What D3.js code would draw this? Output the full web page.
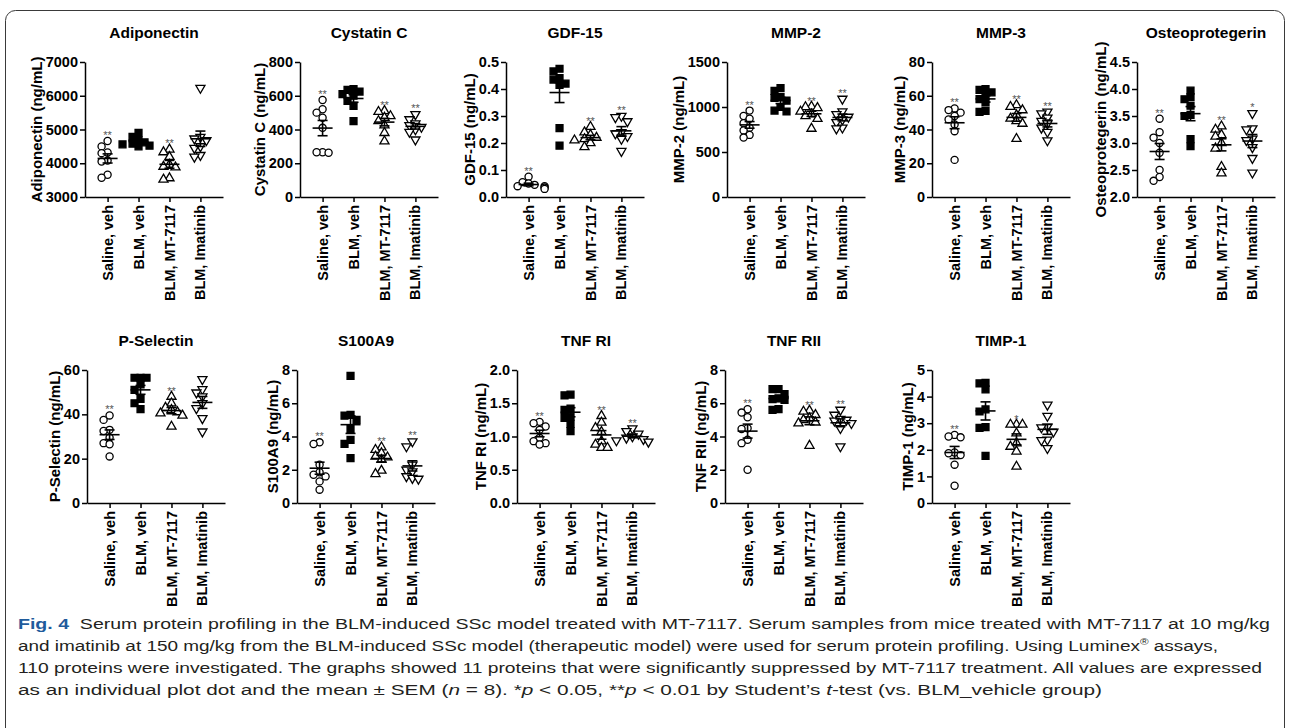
<!DOCTYPE html>
<html>
<head>
<meta charset="utf-8">
<script src="https://cdn.jsdelivr.net/npm/d3@7"></script>
<style>
  body { margin: 0; background: #fff; }
  svg text { font-family: "Liberation Sans", Arial, sans-serif; }
</style>
</head>
<body>
<svg id="fig" width="1290" height="728"></svg>
<script>
// groups shown on every x axis
var groups = ["Saline, veh", "BLM, veh", "BLM, MT-7117", "BLM, Imatinib"];

// values, one array per group (n = 8)
var adiponectin = [
  [4660, 4500, 4320, 4300, 4080, 4050, 3570, 3660],
  [4900, 4780, 4680, 4620, 4580, 4560, 4520, 4500],
  [4410, 4330, 4190, 3960, 3900, 3880, 3520, 3560],
  [6230, 4780, 4730, 4680, 4500, 4450, 4190, 4240]
];
var cystatinC = [
  [575, 520, 500, 470, 410, 265, 262, 265],
  [640, 635, 625, 610, 600, 570, 540, 450],
  [510, 505, 480, 470, 450, 425, 380, 330],
  [490, 460, 435, 425, 415, 400, 385, 340]
];
var gdf15 = [
  [0.075, 0.055, 0.05, 0.045, 0.04, 0.04, 0.035, 0.03],
  [0.475, 0.465, 0.44, 0.435, 0.42, 0.415, 0.255, 0.19],
  [0.26, 0.24, 0.23, 0.22, 0.215, 0.21, 0.2, 0.185],
  [0.3, 0.295, 0.28, 0.24, 0.235, 0.225, 0.215, 0.17]
];
var mmp2 = [
  [960, 900, 870, 820, 770, 740, 690, 660],
  [1210, 1180, 1110, 1100, 1070, 1000, 960, 950],
  [1005, 1000, 990, 950, 920, 900, 870, 760],
  [1090, 950, 920, 890, 860, 830, 770, 760]
];
var mmp3 = [
  [52.5, 51.5, 50, 48, 46, 43, 39, 22],
  [64, 63.5, 62, 60, 58, 56, 51, 50.5],
  [54.5, 53.5, 51.5, 48.5, 46.5, 45, 43.5, 34.5],
  [50.5, 49.5, 47, 45, 43.5, 41, 38.5, 33.5]
];
var osteoprotegerin = [
  [3.45, 3.2, 3.1, 3.0, 2.82, 2.5, 2.3, 2.37],
  [3.97, 3.85, 3.81, 3.69, 3.52, 3.5, 3.07, 2.94],
  [3.31, 3.25, 3.15, 3.12, 3.0, 2.9, 2.56, 2.44],
  [3.55, 3.27, 3.25, 3.08, 3.05, 2.92, 2.72, 2.45]
];
var pSelectin = [
  [39.5, 37.5, 33, 32.5, 29.5, 27, 26.5, 21],
  [56.5, 56.5, 56.5, 53.5, 51, 47, 45, 42.3],
  [48, 45, 43, 42, 41, 40.5, 39.5, 34.5],
  [55.8, 51.3, 49.8, 48, 45, 42.7, 38.2, 32.2]
];
var s100a9 = [
  [3.65, 3.55, 2.3, 1.85, 1.7, 1.6, 1.3, 0.8],
  [7.65, 5.3, 5.25, 5.0, 4.45, 3.8, 3.55, 2.7],
  [3.35, 3.2, 3.0, 2.8, 2.75, 2.6, 1.95, 1.75],
  [3.7, 3.4, 2.3, 2.0, 1.9, 1.6, 1.5, 1.45]
];
var tnfRI = [
  [1.22, 1.2, 1.15, 1.1, 0.98, 0.93, 0.9, 0.88],
  [1.63, 1.62, 1.42, 1.4, 1.3, 1.28, 1.19, 1.08],
  [1.31, 1.21, 1.13, 1.07, 0.93, 0.88, 0.83, 0.83],
  [1.12, 1.08, 1.04, 1.0, 0.98, 0.96, 0.94, 0.92]
];
var tnfRII = [
  [5.64, 5.44, 5.16, 4.5, 4.45, 3.8, 3.6, 2.0],
  [6.85, 6.85, 6.55, 6.3, 6.25, 6.2, 5.65, 5.6],
  [5.56, 5.5, 5.3, 5.1, 5.0, 4.85, 4.8, 3.45],
  [5.6, 5.3, 5.05, 5.0, 4.95, 4.8, 4.5, 3.4]
];
var timp1 = [
  [2.56, 2.5, 2.47, 1.9, 1.87, 1.8, 1.44, 0.65],
  [4.52, 4.5, 4.27, 3.52, 3.44, 2.85, 2.82, 1.77],
  [2.95, 2.95, 2.95, 2.62, 2.25, 2.12, 1.94, 1.37],
  [3.69, 3.27, 2.87, 2.84, 2.68, 2.38, 2.36, 2.06]
];

// y tick labels per panel
var adiponectinTicks = [3000, 4000, 5000, 6000, 7000];
var cystatinTicks = [0, 200, 400, 600, 800];
var gdf15Ticks = [0.0, 0.1, 0.2, 0.3, 0.4, 0.5];
var mmp2Ticks = [0, 500, 1000, 1500];
var mmp3Ticks = [0, 20, 40, 60, 80];
var osteoTicks = [2.0, 2.5, 3.0, 3.5, 4.0, 4.5];
var pSelectinTicks = [0, 20, 40, 60];
var s100a9Ticks = [0, 2, 4, 6, 8];
var tnfRITicks = [0.0, 0.5, 1.0, 1.5, 2.0];
var tnfRIITicks = [0, 2, 4, 6, 8];
var timp1Ticks = [0, 1, 2, 3, 4, 5];

// significance vs BLM, veh
var adiponectinStars = ["**", "", "**", ""];
var cystatinStars = ["**", "", "**", "**"];
var gdf15Stars = ["**", "", "**", "**"];
var mmp2Stars = ["**", "", "**", "**"];
var mmp3Stars = ["**", "", "**", "**"];
var osteoStars = ["**", "", "**", "*"];
var pSelectinStars = ["**", "", "**", ""];
var s100a9Stars = ["**", "", "**", "**"];
var tnfRIStars = ["**", "", "**", "**"];
var tnfRIIStars = ["**", "", "**", "**"];
var timp1Stars = ["**", "", "*", ""];

var panels = [
  { title: "Adiponectin", label: "Adiponectin (ng/mL)", values: adiponectin, ticks: adiponectinTicks, fmt: "d", stars: adiponectinStars },
  { title: "Cystatin C", label: "Cystatin C (ng/mL)", values: cystatinC, ticks: cystatinTicks, fmt: "d", stars: cystatinStars },
  { title: "GDF-15", label: "GDF-15 (ng/mL)", values: gdf15, ticks: gdf15Ticks, fmt: ".1f", stars: gdf15Stars },
  { title: "MMP-2", label: "MMP-2 (ng/mL)", values: mmp2, ticks: mmp2Ticks, fmt: "d", stars: mmp2Stars },
  { title: "MMP-3", label: "MMP-3 (ng/mL)", values: mmp3, ticks: mmp3Ticks, fmt: "d", stars: mmp3Stars },
  { title: "Osteoprotegerin", label: "Osteoprotegerin (ng/mL)", values: osteoprotegerin, ticks: osteoTicks, fmt: ".1f", stars: osteoStars },
  { title: "P-Selectin", label: "P-Selectin (ng/mL)", values: pSelectin, ticks: pSelectinTicks, fmt: "d", stars: pSelectinStars },
  { title: "S100A9", label: "S100A9 (ng/mL)", values: s100a9, ticks: s100a9Ticks, fmt: "d", stars: s100a9Stars },
  { title: "TNF RI", label: "TNF RI (ng/mL)", values: tnfRI, ticks: tnfRITicks, fmt: ".1f", stars: tnfRIStars },
  { title: "TNF RII", label: "TNF RII (ng/mL)", values: tnfRII, ticks: tnfRIITicks, fmt: "d", stars: tnfRIIStars },
  { title: "TIMP-1", label: "TIMP-1 (ng/mL)", values: timp1, ticks: timp1Ticks, fmt: "d", stars: timp1Stars }
];

// layout
var axisX = [85, 300, 506, 727, 932, 1137, 87, 297, 517, 725, 932];
var rows = [{ top: 62, bottom: 197 }, { top: 370, bottom: 503 }];
var plotW = 138;
var fontBold = 14.5;

var svg = d3.select("#fig");

// figure frame
svg.append("rect")
    .attr("x", 5.5).attr("y", 10.5)
    .attr("width", 1279).attr("height", 740)
    .attr("rx", 10)
    .attr("fill", "none")
    .attr("stroke", "#3a3a3a")
    .attr("stroke-width", 1);

var markers = [
  { type: d3.symbolCircle, size: 40, fill: "#fff", rot: 0 },
  { type: d3.symbolSquare, size: 48, fill: "#000", rot: 0 },
  { type: d3.symbolTriangle, size: 36, fill: "#fff", rot: 0 },
  { type: d3.symbolTriangle, size: 36, fill: "#fff", rot: 180 }
];

// small swarm: points that overlap get pushed sideways a little
function swarm(vals, y, cx) {
  var placed = [];
  var steps = [0, -6, 6, -11, 11, -16, 16];
  vals.slice().sort(d3.descending).forEach(function (v) {
    var py = y(v);
    for (var k = 0; k < steps.length; k++) {
      var px = cx + steps[k];
      var ok = placed.every(function (p) {
        return Math.hypot(p.x - px, p.y - py) >= 5.8;
      });
      if (ok || k === steps.length - 1) { placed.push({ x: px, y: py, v: v }); break; }
    }
  });
  return placed;
}

panels.forEach(function (p, i) {
  var row = rows[i < 6 ? 0 : 1];
  var g = svg.append("g").attr("transform", "translate(" + axisX[i] + ",0)");

  var x = d3.scalePoint().domain(groups).range([0, plotW]).padding(0.73);
  var y = d3.scaleLinear().domain(d3.extent(p.ticks)).range([row.bottom, row.top]);

  var ya = g.append("g")
      .call(d3.axisLeft(y).tickValues(p.ticks).tickFormat(d3.format(p.fmt))
        .tickSize(5).tickSizeOuter(0).tickPadding(2));
  ya.selectAll("text").attr("font-size", fontBold).attr("font-weight", "bold").attr("fill", "#000");

  g.append("g")
      .attr("transform", "translate(0," + row.bottom + ")")
      .call(d3.axisBottom(x).tickSize(5).tickSizeOuter(0).tickFormat(""));

  g.selectAll(".domain, .tick line").attr("stroke", "#000").attr("stroke-width", 1.5);

  // rotated group labels
  g.selectAll(".xlab").data(groups).enter().append("text")
      .attr("transform", function (d) { return "translate(" + x(d) + "," + (row.bottom + 8) + ") rotate(-90)"; })
      .attr("text-anchor", "end")
      .attr("dy", "0.35em")
      .attr("font-size", fontBold)
      .attr("font-weight", "bold")
      .text(function (d) { return d; });

  // y title next to tick labels
  var bb = ya.node().getBBox();
  var ymid = (row.top + row.bottom) / 2;
  g.append("text")
      .attr("transform", "translate(" + (bb.x - 9) + "," + ymid + ") rotate(-90)")
      .attr("text-anchor", "middle")
      .attr("dy", "0.35em")
      .attr("font-size", 15)
      .attr("font-weight", "bold")
      .text(p.label);

  // panel title
  g.append("text")
      .attr("x", plotW / 2).attr("y", row.top - 24)
      .attr("text-anchor", "middle")
      .attr("font-size", 15.5)
      .attr("font-weight", "bold")
      .text(p.title);

  p.values.forEach(function (vals, j) {
    var cx = x(groups[j]);
    var m = markers[j];
    var sym = d3.symbol().type(m.type).size(m.size);
    var pts = swarm(vals, y, cx);

    g.selectAll(".pt" + j).data(pts).enter().append("path")
        .attr("d", sym)
        .attr("transform", function (d) { return "translate(" + d.x + "," + d.y + ") rotate(" + m.rot + ")"; })
        .attr("fill", m.fill)
        .attr("stroke", "#000")
        .attr("stroke-width", 1.3);

    var mean = d3.mean(vals);
    var sem = d3.deviation(vals) / Math.sqrt(vals.length);
    var eb = g.append("g").attr("stroke", "#000").attr("stroke-width", 1.6).attr("fill", "none");
    eb.append("line").attr("x1", cx - 10).attr("x2", cx + 10).attr("y1", y(mean)).attr("y2", y(mean));
    eb.append("line").attr("x1", cx).attr("x2", cx).attr("y1", y(mean - sem)).attr("y2", y(mean + sem));
    eb.append("line").attr("x1", cx - 5).attr("x2", cx + 5).attr("y1", y(mean + sem)).attr("y2", y(mean + sem));
    eb.append("line").attr("x1", cx - 5).attr("x2", cx + 5).attr("y1", y(mean - sem)).attr("y2", y(mean - sem));

    if (p.stars[j]) {
      g.append("text")
          .attr("x", cx).attr("y", y(d3.max(vals)) - 2)
          .attr("text-anchor", "middle")
          .attr("font-size", 11)
          .attr("fill", "#555")
          .text(p.stars[j]);
    }
  });
});

// caption, each line stretched to the width it has in the figure
var capLines = [
  [["Fig. 4", "b"], ["  Serum protein profiling in the BLM-induced SSc model treated with MT-7117. Serum samples from mice treated with MT-7117 at 10 mg/kg", ""]],
  [["and imatinib at 150 mg/kg from the BLM-induced SSc model (therapeutic model) were used for serum protein profiling. Using Luminex", ""], ["\u00ae", "sup"], [" assays,", "down"]],
  [["110 proteins were investigated. The graphs showed 11 proteins that were significantly suppressed by MT-7117 treatment. All values are expressed", ""]],
  [["as an individual plot dot and the mean \u00b1 SEM (", ""], ["n", "i"], [" = 8). *", ""], ["p", "i"], [" < 0.05, **", ""], ["p", "i"], [" < 0.01 by Student\u2019s ", ""], ["t", "i"], ["-test (vs. BLM_vehicle group)", ""]]
];
var capY = [629, 651, 673, 695];
var capWidth = [1252, 1200, 1244, 1084];

var cap = svg.append("g").attr("fill", "#231f20");
capLines.forEach(function (parts, k) {
  var t = cap.append("text").attr("x", 18).attr("y", capY[k])
      .attr("font-size", 15.5)
      .attr("xml:space", "preserve")
      .attr("textLength", capWidth[k])
      .attr("lengthAdjust", "spacingAndGlyphs");
  parts.forEach(function (pt) {
    var s = t.append("tspan").text(pt[0]);
    if (pt[1] === "b") s.attr("font-weight", "bold").attr("fill", "#1f5b9c");
    if (pt[1] === "i") s.attr("font-style", "italic");
    if (pt[1] === "sup") s.attr("font-size", "0.62em").attr("dy", "-0.6em");
    if (pt[1] === "down") s.attr("dy", "0.37em");
  });
});
</script>
</body>
</html>
